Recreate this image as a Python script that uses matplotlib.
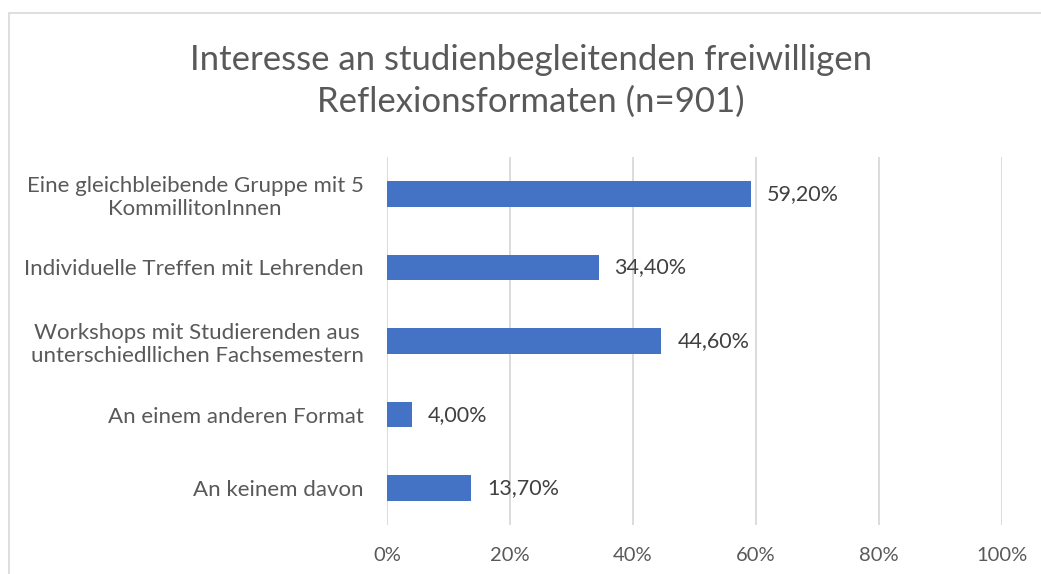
import matplotlib
matplotlib.use("Agg")
import matplotlib.pyplot as plt
from matplotlib.patches import Rectangle
from matplotlib.ticker import FuncFormatter

categories = [
    "Eine gleichbleibende Gruppe mit 5\nKommillitonInnen",
    "Individuelle Treffen mit Lehrenden",
    "Workshops mit Studierenden aus\nunterschiedllichen Fachsemestern",
    "An einem anderen Format",
    "An keinem davon",
]
values = [59.2, 34.4, 44.6, 4.0, 13.7]
xticks = [0, 20, 40, 60, 80, 100]
title = "Interesse an studienbegleitenden freiwilligen\nReflexionsformaten (n=901)"

plt.rcParams['font.family'] = ['Lato', 'DejaVu Sans']

W, H = 1041, 574
fig = plt.figure(figsize=(W / 100, H / 100), dpi=100)
fig.patch.set_facecolor("white")

# chart border
fig.patches.append(Rectangle((8.5 / W, -0.05), 1.2, 1 - 12.5 / H + 0.05,
                             transform=fig.transFigure, fill=False,
                             edgecolor="#D9D9D9", linewidth=1.2))

ax = fig.add_axes([387 / W, 1 - 525 / H, (1002 - 387) / W, (525 - 157) / H])
y = list(range(len(categories)))
ax.barh(y, values, height=0.35, color="#4472C4", zorder=3)
ax.set_xlim(0, 100)
ax.set_ylim(len(categories) - 0.5, -0.5)
ax.set_xticks(xticks)
ax.xaxis.set_major_formatter(FuncFormatter(lambda v, p: f"{v:.0f}%"))
ax.set_yticks(y)
ax.set_yticklabels(categories, multialignment="center")
ax.tick_params(axis="y", length=0, pad=17, labelsize=16, labelcolor="#595959")
ax.tick_params(axis="x", length=0, pad=16, labelsize=14.5, labelcolor="#595959")
ax.grid(axis="x", color="#D9D9D9", linewidth=1.3, zorder=0)
for s in ax.spines.values():
    s.set_visible(False)

for yi, v in zip(y, values):
    ax.annotate(f"{v:.2f}%".replace(".", ","), (v, yi), xytext=(11.5, 0),
                textcoords="offset points", va="center", ha="left",
                fontsize=15.5, color="#404040")

fig.text(531 / W, 1 - 81 / H, title, ha="center", va="center",
         fontsize=25, color="#595959", linespacing=1.35)

fig.savefig("out.png", dpi=100)
